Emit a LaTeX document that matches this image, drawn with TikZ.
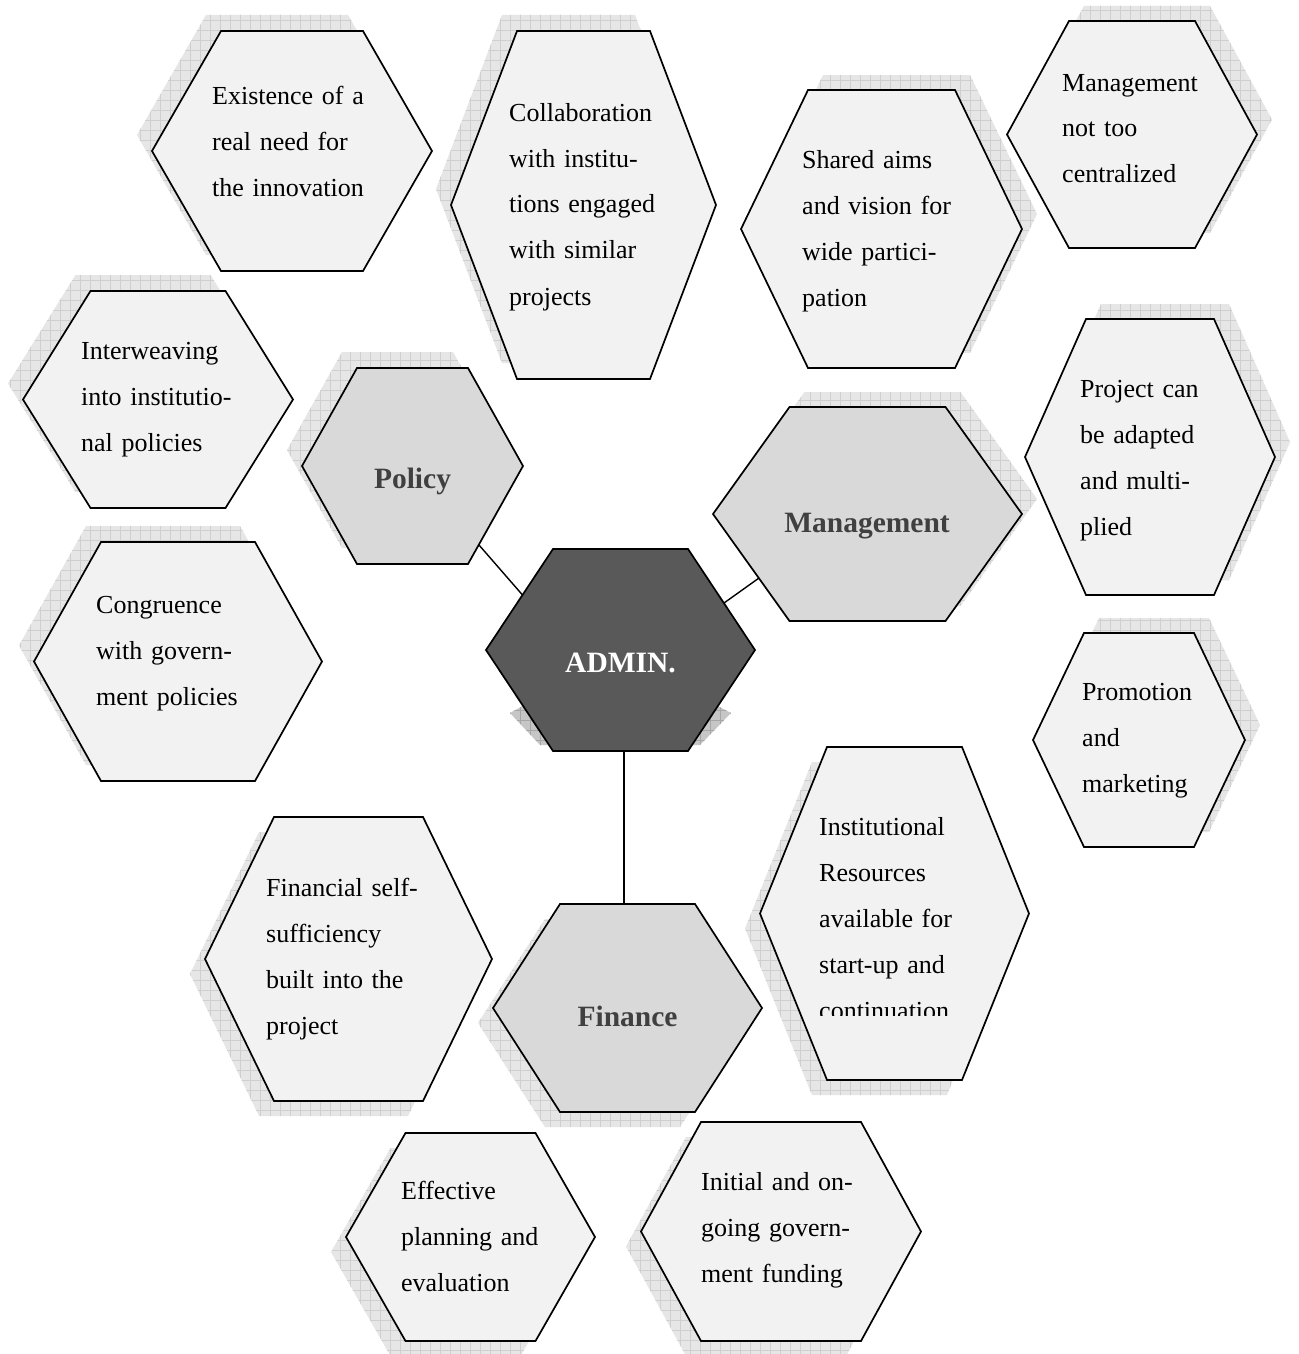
\documentclass[tikz,border=0pt]{standalone}
\usepackage{fontspec}
\setmainfont{Liberation Serif}
\definecolor{paleface}{HTML}{F2F2F2}
\definecolor{midface}{HTML}{D9D9D9}
\definecolor{darkface}{HTML}{595959}
\definecolor{shadefill}{HTML}{E6E6E6}
\definecolor{shadegrid}{HTML}{CFCFCF}
\definecolor{labelgray}{HTML}{404040}

% flat-topped hexagon: centre (#1,#2), half width to the side points #3,
% half length of top edge #4, half height #5
\newcommand{\hexpath}[5]{({#1-#3},{#2}) -- ({#1-#4},{#2-#5}) -- ({#1+#4},{#2-#5}) -- ({#1+#3},{#2}) -- ({#1+#4},{#2+#5}) -- ({#1-#4},{#2+#5}) -- cycle}

% #1 name, #2 #3 centre, #4 #5 #6 size, #7 face style, #8 #9 shadow offset
\newcommand{\hexcell}[9]{%
  \begin{scope}
    \clip[shift={(#8,#9)}] \hexpath{#2}{#3}{#4}{#5}{#6};
    \fill[shadefill] (0,0) rectangle (1298,1354);
    \draw[shadegrid, line width=0.7pt, step=10pt] (0,0) grid (1300,1360);
  \end{scope}
  \filldraw[#7] \hexpath{#2}{#3}{#4}{#5}{#6};
  \coordinate (#1) at (#2,#3);
}

\begin{document}
\begin{tikzpicture}[x=1pt,y=-1pt,
  pale/.style={fill=paleface, draw=black, line width=1.7pt, line join=miter},
  mid/.style={fill=midface, draw=black, line width=1.7pt, line join=miter},
  dark/.style={fill=darkface, draw=black, line width=1.7pt, line join=miter},
  link/.style={draw=black, line width=1.4pt},
  body/.style={font=\fontsize{26}{46}\selectfont, align=left, text width=230pt,
    inner sep=0pt, anchor=base west, text=black},
  label/.style={font=\fontsize{29.5}{34}\selectfont\bfseries, inner sep=0pt,
    anchor=base, text=labelgray}]

\useasboundingbox (0,0) rectangle (1298,1354);
\fill[white] (0,0) rectangle (1298,1354);

% connectors from the centre hexagon (drawn first, faces cover their ends)
\coordinate (policy-se) at (479,545);
\coordinate (admin-nw) at (522.5,595);
\coordinate (mgmt-sw) at (759,578);
\coordinate (admin-ne) at (724,603);
\coordinate (admin-s) at (624,751);
\coordinate (finance-n) at (624,904);
\draw[link] (policy-se) -- (admin-nw);
\draw[link] (mgmt-sw) -- (admin-ne);
\draw[link] (admin-s) -- (finance-n);

% outer ring
\hexcell{existence}{292}{151}{140}{71}{120}{pale}{-15}{-16}
\hexcell{collab}{583.5}{205}{132.5}{66.5}{174}{pale}{-15}{-16}
\hexcell{shared}{881.5}{229}{140.5}{73.5}{139}{pale}{15}{-15}
\hexcell{central}{1132}{134.5}{125}{63}{113.5}{pale}{15}{-15}
\hexcell{interweave}{158}{399.5}{135}{67.5}{108.5}{pale}{-15}{-16}
\hexcell{congruence}{178}{661.5}{144}{77}{119.5}{pale}{-15}{-16}
\hexcell{adapted}{1150}{457}{125}{64}{138}{pale}{15}{-15}
\hexcell{promotion}{1139}{740}{106}{55}{107}{pale}{15}{-15}
\hexcell{resources}{894.5}{913.5}{134.5}{67.5}{166.5}{pale}{-15}{15}
\hexcell{selfsuff}{348.5}{959}{143.5}{74.5}{142}{pale}{-15}{15}
\hexcell{planning}{470.5}{1237}{124.5}{65}{104}{pale}{-15}{15}
\hexcell{funding}{781}{1231.5}{140}{80}{109.5}{pale}{-15}{15}

% category hexagons
\hexcell{policy}{412.5}{466}{110.5}{55.5}{98}{mid}{-15}{-16}
\hexcell{mgmt}{867.5}{514}{154.5}{78}{107}{mid}{15}{-15}
\hexcell{finance}{627.5}{1008}{134.5}{67.5}{104}{mid}{-15}{15}

% centre hexagon with its cast shadow
\begin{scope}
  \clip (510,713) -- (528,703) -- (712,703) -- (731,713) -- (700,745) -- (540,745) -- cycle;
  \fill[gray!45] (500,690) rectangle (740,750);
  \draw[gray!70, line width=0.5pt, step=10pt] (500,690) grid (740,750);
\end{scope}
\filldraw[dark] \hexpath{620.5}{650}{134.5}{67.5}{101};
\coordinate (admin) at (620.5,650);

% labels
\node[label, text=white] (admin-text) at (620.5,672) {ADMIN.};
\node[label] (policy-text) at (412.5,488) {Policy};
\node[label] (mgmt-text) at (867,532) {Management};
\node[label] (finance-text) at (627.5,1026) {Finance};

\node[body] (existence-text) at (212,104) {Existence of a\\real need for\\the innovation};
\node[body] (collab-text) at (509,121) {Collaboration\\with institu-\\tions engaged\\with similar\\projects};
\node[body] (shared-text) at (802,168) {Shared aims\\and vision for\\wide partici-\\pation};
\node[body] (central-text) at (1062,91) {Management\\not too\\centralized};
\node[body] (interweave-text) at (81,359) {Interweaving\\into institutio-\\nal policies};
\node[body] (congruence-text) at (96,613) {Congruence\\with govern-\\ment policies};
\node[body] (adapted-text) at (1080,397) {Project can\\be adapted\\and multi-\\plied};
\node[body] (promotion-text) at (1082,700) {Promotion\\and\\marketing};
\begin{scope}
  \clip (700,700) rectangle (1100,1015);
  \node[body] (resources-text) at (819,835) {Institutional\\Resources\\available for\\start-up and\\continuation};
\end{scope}
\node[body] (selfsuff-text) at (266,896) {Financial self-\\sufficiency\\built into the\\project};
\node[body] (planning-text) at (401,1199) {Effective\\planning and\\evaluation};
\node[body] (funding-text) at (701,1190) {Initial and on-\\going govern-\\ment funding};

\end{tikzpicture}
\end{document}
